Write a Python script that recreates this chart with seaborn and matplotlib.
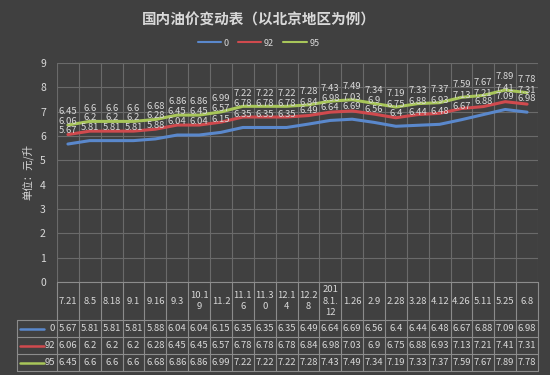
import matplotlib
matplotlib.use("Agg")
import matplotlib.pyplot as plt
import seaborn as sns
import pandas as pd
from matplotlib.lines import Line2D

DATES = ["7.21", "8.5", "8.18", "9.1", "9.16", "9.3", "10.19", "11.2", "11.16",
         "11.30", "12.14", "12.28", "2018.1.12", "1.26", "2.9", "2.28", "3.28",
         "4.12", "4.26", "5.11", "5.25", "6.8"]
# how the date cells wrap in the table under the chart
DATE_CELLS = ["7.21", "8.5", "8.18", "9.1", "9.16", "9.3", "10.1\n9", "11.2",
              "11.1\n6", "11.3\n0", "12.1\n4", "12.2\n8", "201\n8.1.\n12", "1.26",
              "2.9", "2.28", "3.28", "4.12", "4.26", "5.11", "5.25", "6.8"]
SERIES = ["0", "92", "95"]
DIESEL_0 = [5.67, 5.81, 5.81, 5.81, 5.88, 6.04, 6.04, 6.15, 6.35, 6.35, 6.35,
            6.49, 6.64, 6.69, 6.56, 6.4, 6.44, 6.48, 6.67, 6.88, 7.09, 6.98]
GAS_92 = [6.06, 6.2, 6.2, 6.2, 6.28, 6.45, 6.45, 6.57, 6.78, 6.78, 6.78,
          6.84, 6.98, 7.03, 6.9, 6.75, 6.88, 6.93, 7.13, 7.21, 7.41, 7.31]
GAS_95 = [6.45, 6.6, 6.6, 6.6, 6.68, 6.86, 6.86, 6.99, 7.22, 7.22, 7.22,
          7.28, 7.43, 7.49, 7.34, 7.19, 7.33, 7.37, 7.59, 7.67, 7.89, 7.78]
COLORS = ["#5a88cc", "#d04a4e", "#a8c65a"]

BG = "#404040"
GRID = "#6a6a6a"
TXT = "#d9d9d9"
TABLE_LINE = "#8c8c8c"

sns.set_theme(style="darkgrid", rc={
    "figure.facecolor": BG, "axes.facecolor": BG, "grid.color": GRID,
    "text.color": TXT, "xtick.color": TXT, "ytick.color": TXT,
})
plt.rcParams["font.family"] = ["Noto Sans CJK SC", "DejaVu Sans"]

values = [DIESEL_0, GAS_92, GAS_95]
rows = []
for name, vals in zip(SERIES, values):
    for i, v in enumerate(vals):
        rows.append({"idx": i, "date": DATES[i], "price": v, "type": name})
df = pd.DataFrame(rows)

W, H = 550, 375
fig = plt.figure(figsize=(5.5, 3.75), dpi=100)

# plot area in pixels
px0, px1, py_top, py_bot = 57, 538, 63, 282
ax = fig.add_axes([px0 / W, 1 - py_bot / H, (px1 - px0) / W, (py_bot - py_top) / H])
n = len(DATES)
sns.lineplot(data=df, x="idx", y="price", hue="type", palette=COLORS,
             hue_order=SERIES, linewidth=2.2, legend=False, ax=ax)
ax.set_xlim(-0.5, n - 0.5)
ax.set_ylim(0, 9)
ax.set_yticks(range(0, 10))
ax.set_xticks([i - 0.5 for i in range(n + 1)])
ax.set_xticklabels([])
ax.tick_params(axis="y", labelsize=7.5, pad=8, length=0)
ax.tick_params(axis="x", length=0)
ax.grid(True, color=GRID, linewidth=0.8)
ax.set_xlabel("")
ax.set_ylabel("单位：元/升", fontsize=7.5, color=TXT, labelpad=5)
for s in ax.spines.values():
    s.set_visible(False)

for name, vals in zip(SERIES, values):
    for i, v in enumerate(vals):
        ax.annotate(f"{v:g}", (i, v), xytext=(0, 9.5), textcoords="offset points",
                    ha="center", va="center", fontsize=6.8, color=TXT)

fig.suptitle("国内油价变动表（以北京地区为例）", x=0.47, y=0.97, fontsize=10.5,
             fontweight="bold", color=TXT)

handles = [Line2D([], [], color=c, linewidth=1.5) for c in COLORS]
fig.legend(handles, SERIES, loc="center", bbox_to_anchor=(0.47, 0.885), ncol=3,
           frameon=False, fontsize=6.5, labelcolor=TXT, handlelength=2.6,
           handletextpad=0.3, columnspacing=1.0)

# data table under the chart, drawn in pixel coordinates
ov = fig.add_axes([0, 0, 1, 1], facecolor="none")
ov.set_xlim(0, W)
ov.set_ylim(H, 0)
ov.axis("off")
colw = (px1 - px0) / n
lx0 = 17
ys = [282, 320, 337, 354, 371]
ov.plot([px0, px1], [ys[0], ys[0]], color=TABLE_LINE, lw=0.8)
for y in ys[1:]:
    ov.plot([lx0, px1], [y, y], color=TABLE_LINE, lw=0.8)
ov.plot([lx0, lx0], [ys[1], ys[-1]], color=TABLE_LINE, lw=0.8)
for k in range(n + 1):
    x = px0 + k * colw
    ov.plot([x, x], [ys[0], ys[-1]], color=TABLE_LINE, lw=0.8)

for k, lab in enumerate(DATE_CELLS):
    ov.text(px0 + (k + 0.5) * colw, (ys[0] + ys[1]) / 2, lab, ha="center",
            va="center", fontsize=6.8, color=TXT, linespacing=1.3)

for r, (name, vals, c) in enumerate(zip(SERIES, values, COLORS)):
    yc = (ys[r + 1] + ys[r + 2]) / 2
    ov.plot([20, 44], [yc, yc], color=c, lw=1.8)
    ov.text(55, yc, name, ha="right", va="center", fontsize=6.8, color=TXT)
    for k, v in enumerate(vals):
        ov.text(px0 + (k + 0.5) * colw, yc, f"{v:g}", ha="center", va="center",
                fontsize=6.8, color=TXT)

fig.savefig("out.png", dpi=100, facecolor=BG)
